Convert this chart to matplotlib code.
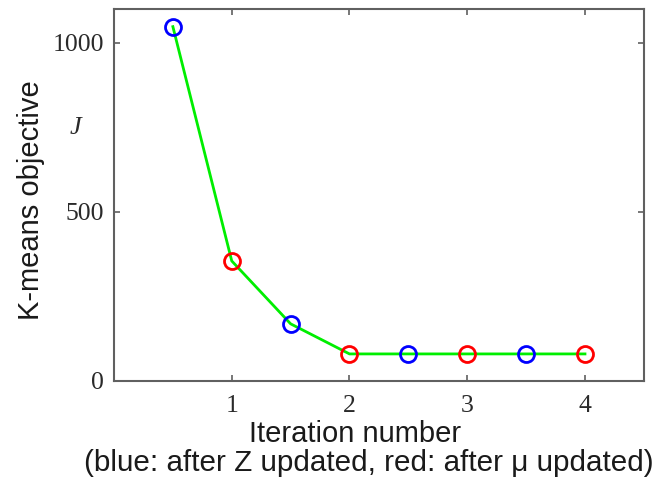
import matplotlib
matplotlib.use('Agg')
import matplotlib.pyplot as plt

# K-means objective J, alternating between Z step (blue) and mu step (red)
iters = [0.5, 1.0, 1.5, 2.0, 2.5, 3.0, 3.5, 4.0]
J = [1048, 355, 169, 80, 80, 80, 80, 80]
colours = ['blue', 'red', 'blue', 'red', 'blue', 'red', 'blue', 'red']

xticks = [1, 2, 3, 4]
yticks = [0, 500, 1000]

spine_col = '#606060'
sans = 'Liberation Sans'
serif = 'Liberation Serif'

fig = plt.figure(figsize=(6.59, 4.78), dpi=100)
ax = fig.add_axes([0.173, 0.203, 0.804, 0.778])

ax.plot(iters, J, color='#00ee00', lw=2.0, zorder=2)
for x, y, c in zip(iters, J, colours):
    ax.plot(x, y, 'o', ms=11.5, mfc='none', mec=c, mew=2.0, zorder=3)

ax.set_xlim(0, 4.5)
ax.set_ylim(0, 1100)
ax.set_xticks(xticks)
ax.set_yticks(yticks)
ax.set_xticklabels([str(t) for t in xticks], fontfamily=serif, fontsize=18.5,
                   color='#2a2a2a')
ax.set_yticklabels([str(t) for t in yticks], fontfamily=serif, fontsize=18.5,
                   color='#2a2a2a')
ax.tick_params(direction='in', length=4.5, width=1.2, color=spine_col,
               top=True, right=True)
ax.tick_params(axis='x', pad=10)
ax.tick_params(axis='y', pad=7)
for s in ax.spines.values():
    s.set_color(spine_col)
    s.set_linewidth(1.5)

fig.text(31 / 659, 1 - 200 / 478, 'K-means objective', rotation=90,
         ha='center', va='center', fontsize=21, fontfamily=sans, color='#1a1a1a')
fig.text(75 / 659, 1 - 128 / 478, 'J', ha='center', va='center', fontsize=19,
         fontfamily=serif, style='italic', color='#2a2a2a')
fig.text(355 / 659, 1 - 434 / 478, 'Iteration number', ha='center',
         va='center', fontsize=21, fontfamily=sans, color='#1a1a1a')
fig.text(369 / 659, 1 - 463 / 478,
         '(blue: after Z updated, red: after \u03bc updated)', ha='center',
         va='center', fontsize=21.3, fontfamily=sans, color='#1a1a1a')

fig.savefig('out.png', dpi=100)
